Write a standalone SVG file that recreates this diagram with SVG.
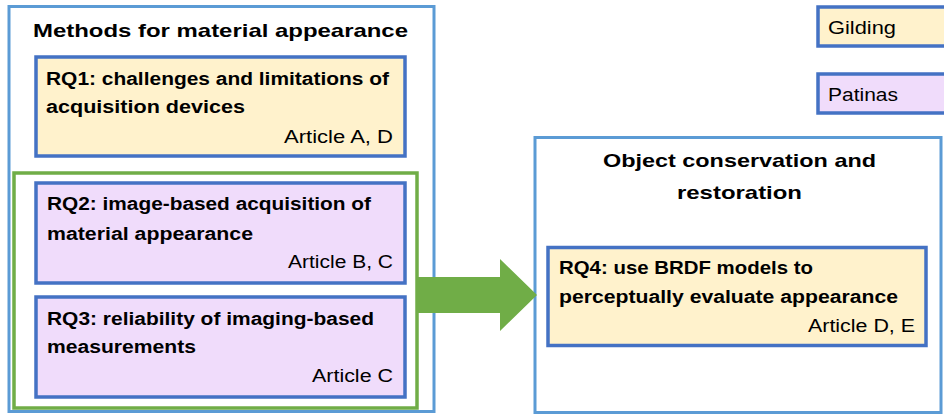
<svg xmlns="http://www.w3.org/2000/svg" width="944" height="415" viewBox="0 0 944 415">
<style>
.frame{fill:#fff;stroke:#5B9BD5;stroke-width:3}
.grp{fill:none;stroke:#70AD47;stroke-width:3.5}
.gold{fill:#FFF2CC;stroke:#4472C4;stroke-width:3.5}
.pat{fill:#F0DCFB;stroke:#4472C4;stroke-width:3.5}
text{font-family:"Liberation Sans",Arial,sans-serif;fill:#000}
.t{font-size:19px;font-weight:bold}
.b{font-size:17.5px;font-weight:bold}
.r{font-size:17.5px}
.arrow{fill:#70AD47}
</style>
<g id="methods">
<rect class="frame" x="9" y="6.5" width="425" height="405"/>
<text class="t" x="33" y="37" textLength="375" lengthAdjust="spacingAndGlyphs">Methods for material appearance</text>
</g>
<g id="objcons">
<rect class="frame" x="535" y="137.5" width="406" height="275"/>
<text class="t" x="603" y="167" textLength="273" lengthAdjust="spacingAndGlyphs">Object conservation and</text>
<text class="t" x="677" y="199" textLength="125" lengthAdjust="spacingAndGlyphs">restoration</text>
</g>
<g id="rq1">
<rect class="gold" x="36" y="57" width="369" height="99"/>
<text class="b" x="46" y="85" textLength="343" lengthAdjust="spacingAndGlyphs">RQ1: challenges and limitations of</text>
<text class="b" x="46" y="113" textLength="199" lengthAdjust="spacingAndGlyphs">acquisition devices</text>
<text class="r" x="284" y="143" textLength="109" lengthAdjust="spacingAndGlyphs">Article A, D</text>
</g>
<g id="imaging">
<rect class="grp" x="14" y="173" width="403" height="235"/>
</g>
<g id="rq2">
<rect class="pat" x="36" y="183" width="369" height="100"/>
<text class="b" x="47" y="210" textLength="324" lengthAdjust="spacingAndGlyphs">RQ2: image-based acquisition of</text>
<text class="b" x="47" y="240" textLength="206" lengthAdjust="spacingAndGlyphs">material appearance</text>
<text class="r" x="288" y="268" textLength="105" lengthAdjust="spacingAndGlyphs">Article B, C</text>
</g>
<g id="rq3">
<rect class="pat" x="36" y="297" width="369" height="100"/>
<text class="b" x="47" y="325" textLength="327" lengthAdjust="spacingAndGlyphs">RQ3: reliability of imaging-based</text>
<text class="b" x="47" y="353" textLength="149" lengthAdjust="spacingAndGlyphs">measurements</text>
<text class="r" x="312" y="382" textLength="81" lengthAdjust="spacingAndGlyphs">Article C</text>
</g>
<g id="rq4">
<rect class="gold" x="548" y="247.5" width="378" height="98"/>
<text class="b" x="559" y="274" textLength="254" lengthAdjust="spacingAndGlyphs">RQ4: use BRDF models to</text>
<text class="b" x="559" y="303" textLength="339" lengthAdjust="spacingAndGlyphs">perceptually evaluate appearance</text>
<text class="r" x="808" y="332" textLength="107" lengthAdjust="spacingAndGlyphs">Article D, E</text>
</g>
<g id="legend-gilding">
<rect class="gold" x="818" y="7" width="140" height="39"/>
<text class="r" x="828" y="34" textLength="68" lengthAdjust="spacingAndGlyphs">Gilding</text>
</g>
<g id="legend-patinas">
<rect class="pat" x="818" y="74" width="140" height="39"/>
<text class="r" x="828" y="101" textLength="70" lengthAdjust="spacingAndGlyphs">Patinas</text>
</g>
<g id="connectors">
<polygon class="arrow" points="418,277 500,277 500,259 537,295 500,331 500,313 418,313"/>
</g>
</svg>
